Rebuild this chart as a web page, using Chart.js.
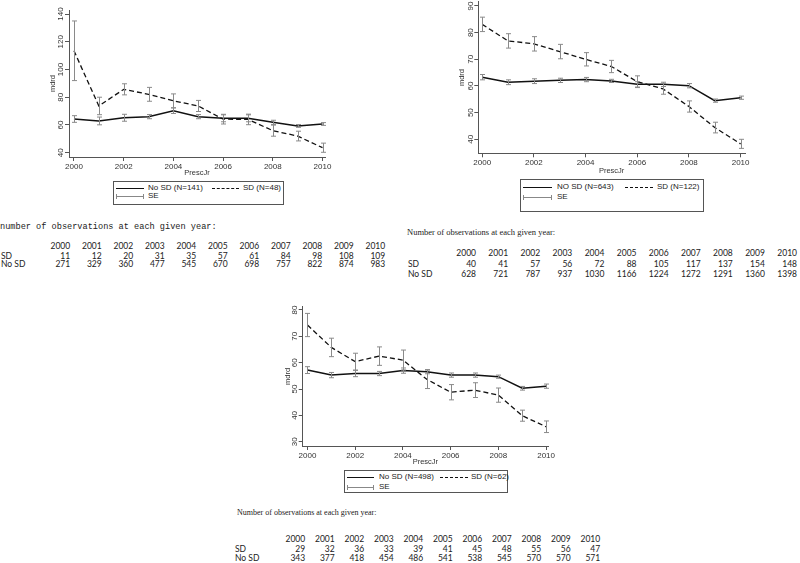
<!DOCTYPE html>
<html>
<head>
<meta charset="utf-8">
<script src="https://cdn.jsdelivr.net/npm/chart.js@4.4.0/dist/chart.umd.min.js"></script>
<style>
  html, body { margin: 0; padding: 0; background: #fff; }
  #page { position: relative; width: 800px; height: 563px; overflow: hidden; font-family: "Liberation Sans", Arial, sans-serif; color: #222; }
  canvas { position: absolute; }
  .lg { position: absolute; box-sizing: border-box; border: 1px solid #555; background: #fff; font-size: 8px; }
  .lg span { position: absolute; white-space: nowrap; line-height: 10px; margin-top: -5px; }
  .lg i { position: absolute; height: 0; }
  .solid { border-top: 1.5px solid #111; }
  .dash { border-top: 1.3px dashed #111; }
  .se { border-top: 1px solid #888; }
  .se:before, .se:after { content: ""; position: absolute; top: -3px; height: 5px; border-left: 1px solid #888; }
  .se:before { left: 0; }
  .se:after { right: 0; }
  .ttl { position: absolute; white-space: nowrap; line-height: 10px; margin-top: -5px; color: #222; }
  .cell { position: absolute; white-space: nowrap; text-align: right; font-family: Lato, "Open Sans", sans-serif; font-size: 8.5px; line-height: 10px; margin-top: -5px; width: 30px; color: #222; }
  .rowlab { position: absolute; white-space: nowrap; font-family: Lato, "Open Sans", sans-serif; font-size: 8.5px; line-height: 10px; margin-top: -5px; color: #222; }
</style>
</head>
<body>
<div id="page">
  <canvas id="c1" width="310" height="182" style="left:30px;top:0px"></canvas>
  <canvas id="c2" width="320" height="178" style="left:440px;top:0px"></canvas>
  <canvas id="c3" width="300" height="172" style="left:260px;top:295px"></canvas>

  <div class="lg" style="left:113px;top:181px;width:171px;height:24px">
    <i class="solid" style="left:2px;top:6px;width:28px"></i><span style="left:34px;top:6px">No SD (N=141)</span>
    <i class="dash" style="left:98px;top:6px;width:27px"></i><span style="left:129px;top:6px">SD (N=48)</span>
    <i class="se" style="left:2px;top:14px;width:28px"></i><span style="left:34px;top:14px">SE</span>
  </div>
  <div class="lg" style="left:520px;top:179px;width:184px;height:33px">
    <i class="solid" style="left:2px;top:7px;width:29px"></i><span style="left:36px;top:7px">NO SD (N=643)</span>
    <i class="dash" style="left:104px;top:7px;width:28px"></i><span style="left:136px;top:7px">SD (N=122)</span>
    <i class="se" style="left:2px;top:17px;width:29px"></i><span style="left:36px;top:17px">SE</span>
  </div>
  <div class="lg" style="left:344px;top:470px;width:164px;height:23px">
    <i class="solid" style="left:2px;top:6px;width:27px"></i><span style="left:34px;top:6px">No SD (N=498)</span>
    <i class="dash" style="left:95px;top:6px;width:28px"></i><span style="left:126px;top:6px">SD (N=62)</span>
    <i class="se" style="left:2px;top:16px;width:27px"></i><span style="left:34px;top:16px">SE</span>
  </div>

  <div class="ttl" style="left:0px;top:227px;font-family:'Liberation Mono',monospace;font-size:8.6px">number of observations at each given year:</div>
  <div class="ttl" style="left:407px;top:232px;font-family:'Liberation Serif',serif;font-size:8.5px">Number of observations at each given year:</div>
  <div class="ttl" style="left:237px;top:513px;font-family:'Liberation Serif',serif;font-size:8px">Number of observations at each given year:</div>
  <div id="tables"></div>
</div>

<script>
var years = [2000, 2001, 2002, 2003, 2004, 2005, 2006, 2007, 2008, 2009, 2010];
var yearTicks = [2000, 2002, 2004, 2006, 2008, 2010];

// panel 1 (top left)
var p1NoSD = [64.3, 62.9, 65.2, 66.0, 70.3, 66.0, 64.8, 64.8, 61.9, 59.3, 60.7];
var p1NoSDse = [2.4, 2.8, 2.5, 1.5, 2.0, 1.5, 2.5, 2.5, 1.5, 1.0, 1.0];
var p1SD = [113.5, 73.7, 85.7, 82.1, 77.4, 73.7, 64.2, 64.0, 55.9, 52.0, 43.6];
var p1SDse = [21.5, 6.3, 4.0, 5.0, 5.0, 4.0, 3.5, 3.8, 4.0, 3.5, 3.3];
var p1Ticks = [40, 60, 80, 100, 120, 140];
var p1CountSD = [11, 12, 20, 31, 35, 57, 61, 84, 98, 108, 109];
var p1CountNoSD = [271, 329, 360, 477, 545, 670, 698, 757, 822, 874, 983];

// panel 2 (top right)
var p2NoSD = [63.3, 61.4, 61.8, 62.1, 62.4, 61.9, 60.6, 60.6, 60.1, 54.5, 55.6];
var p2NoSDse = [1.0, 0.9, 0.9, 0.8, 0.8, 0.6, 1.0, 0.8, 0.8, 0.6, 0.6];
var p2SD = [83.1, 76.9, 75.8, 72.9, 70.0, 67.3, 61.6, 58.9, 52.3, 44.4, 38.3];
var p2SDse = [2.7, 2.7, 2.7, 2.7, 2.5, 2.3, 2.2, 2.0, 2.1, 2.0, 1.7];
var p2Ticks = [40, 50, 60, 70, 80, 90];
var p2CountSD = [40, 41, 57, 56, 72, 88, 105, 117, 137, 154, 148];
var p2CountNoSD = [628, 721, 787, 937, 1030, 1166, 1224, 1272, 1291, 1360, 1398];

// panel 3 (bottom)
var p3NoSD = [57.2, 55.3, 55.9, 55.9, 57.0, 56.6, 55.3, 55.3, 54.7, 50.3, 51.1];
var p3NoSDse = [1.3, 1.0, 1.2, 0.8, 1.0, 0.8, 0.8, 0.8, 0.6, 0.7, 0.8];
var p3SD = [74.3, 65.8, 60.4, 62.5, 61.0, 53.7, 48.8, 49.6, 47.7, 39.9, 35.7];
var p3SDse = [4.4, 3.5, 3.2, 3.5, 3.8, 3.5, 2.9, 2.8, 2.7, 2.1, 2.2];
var p3Ticks = [30, 40, 50, 60, 70, 80];
var p3CountSD = [29, 32, 36, 33, 39, 41, 45, 48, 55, 56, 47];
var p3CountNoSD = [343, 377, 418, 454, 486, 541, 538, 545, 570, 570, 571];

var axisFont = "'Liberation Sans', Arial, sans-serif";

function pts(vals) {
  return vals.map(function (v, i) { return { x: years[i], y: v }; });
}

// standard error whiskers, drawn through the chart scales
var seBars = {
  id: "seBars",
  afterDatasetsDraw: function (chart) {
    var ctx = chart.ctx, xs = chart.scales.x, ys = chart.scales.y;
    ctx.save();
    ctx.strokeStyle = "#8a8a8a";
    ctx.lineWidth = 1;
    chart.data.datasets.forEach(function (ds) {
      ds.data.forEach(function (p, i) {
        var x = Math.round(xs.getPixelForValue(p.x)) + 0.5;
        var y1 = ys.getPixelForValue(p.y - ds.se[i]);
        var y2 = ys.getPixelForValue(p.y + ds.se[i]);
        ctx.beginPath();
        ctx.moveTo(x, y1); ctx.lineTo(x, y2);
        ctx.moveTo(x - 2.5, y1); ctx.lineTo(x + 2.5, y1);
        ctx.moveTo(x - 2.5, y2); ctx.lineTo(x + 2.5, y2);
        ctx.stroke();
      });
    });
    ctx.restore();
  }
};

// stata style vertical y tick labels
var yLabels = {
  id: "yLabels",
  afterDraw: function (chart) {
    var ctx = chart.ctx, ys = chart.scales.y;
    ctx.save();
    ctx.fillStyle = "#333";
    ctx.font = "8px " + axisFont;
    ctx.textAlign = "center";
    ctx.textBaseline = "middle";
    ys.ticks.forEach(function (t) {
      ctx.save();
      ctx.translate(chart.chartArea.left - 8, ys.getPixelForValue(t.value));
      ctx.rotate(-Math.PI / 2);
      ctx.fillText(String(t.value), 0, 0);
      ctx.restore();
    });
    ctx.restore();
  }
};

function panel(id, p) {
  return new Chart(document.getElementById(id), {
    type: "line",
    data: {
      datasets: [
        { label: "No SD", data: pts(p.noSD), se: p.noSDse, borderColor: "#111", borderWidth: 1.5, pointRadius: 0, tension: 0 },
        { label: "SD", data: pts(p.sd), se: p.sdse, borderColor: "#111", borderWidth: 1.3, borderDash: [5, 3], pointRadius: 0, tension: 0 }
      ]
    },
    options: {
      responsive: false,
      animation: false,
      layout: { padding: { top: p.padTop, right: p.padRight, left: 0, bottom: 0 } },
      plugins: { legend: { display: false }, tooltip: { enabled: false } },
      scales: {
        x: {
          type: "linear", min: p.xMin, max: p.xMax,
          afterBuildTicks: function (s) { s.ticks = yearTicks.map(function (v) { return { value: v }; }); },
          afterFit: function (s) { s.height = p.xH; },
          ticks: { autoSkip: false, maxRotation: 0, padding: 1, color: "#333", font: { size: 8, family: axisFont },
                   callback: function (v) { return String(v); } },
          grid: { drawOnChartArea: false, drawTicks: true, tickLength: 4, color: "#555" },
          border: { display: true, color: "#555", width: 1 },
          title: { display: true, text: "PrescJr", color: "#333", font: { size: 7.5, family: axisFont }, padding: { top: 0, bottom: p.xTitlePad } }
        },
        y: {
          type: "linear", min: p.yMin, max: p.yMax,
          afterBuildTicks: function (s) { s.ticks = p.yTicks.map(function (v) { return { value: v }; }); },
          afterFit: function (s) { s.width = p.yW; },
          ticks: { display: false },
          grid: { drawOnChartArea: false, drawTicks: true, tickLength: 4, color: "#555" },
          border: { display: true, color: "#555", width: 1 },
          title: { display: true, text: "mdrd", color: "#333", font: { size: 7.5, family: axisFont }, padding: { top: p.yTitlePad, bottom: 0 } }
        }
      }
    },
    plugins: [seBars, yLabels]
  });
}

panel("c1", { noSD: p1NoSD, noSDse: p1NoSDse, sd: p1SD, sdse: p1SDse, yTicks: p1Ticks,
  xMin: 1999.8, xMax: 2010.1, yMin: 36.9, yMax: 142.9,
  padTop: 10, padRight: 15, yW: 39, xH: 25, xTitlePad: 4.5, yTitlePad: 18.5 });
panel("c2", { noSD: p2NoSD, noSDse: p2NoSDse, sd: p2SD, sdse: p2SDse, yTicks: p2Ticks,
  xMin: 1999.85, xMax: 2010.17, yMin: 34.75, yMax: 91.6,
  padTop: 1.7, padRight: 15, yW: 38.3, xH: 24.7, xTitlePad: 2.8, yTitlePad: 17.2 });
panel("c3", { noSD: p3NoSD, noSDse: p3NoSDse, sd: p3SD, sdse: p3SDse, yTicks: p3Ticks,
  xMin: 1999.8, xMax: 2010.08, yMin: 28.4, yMax: 81.25,
  padTop: 11.7, padRight: 12, yW: 42.7, xH: 21, xTitlePad: 0.8, yTitlePad: 23.8 });

// observation count tables
function countTable(x0, dx, labX, yHead, ySD, yNo, sd, no) {
  var host = document.getElementById("tables");
  function put(cls, left, top, text) {
    var d = document.createElement("div");
    d.className = cls;
    d.style.left = left + "px";
    d.style.top = top + "px";
    d.textContent = text;
    host.appendChild(d);
  }
  put("rowlab", labX, ySD, "SD");
  put("rowlab", labX, yNo, "No SD");
  years.forEach(function (yr, i) {
    var right = x0 + dx * i + 8.5;
    put("cell", right - 30, yHead, String(yr));
    put("cell", right - 30, ySD, String(sd[i]));
    put("cell", right - 30, yNo, String(no[i]));
  });
}
countTable(61.7, 31.5, 1, 245.5, 255.5, 264, p1CountSD, p1CountNoSD);
countTable(467.5, 32.1, 408, 253, 264.3, 274.3, p2CountSD, p2CountNoSD);
countTable(296.7, 29.5, 235, 539, 549, 558, p3CountSD, p3CountNoSD);
</script>
</body>
</html>
